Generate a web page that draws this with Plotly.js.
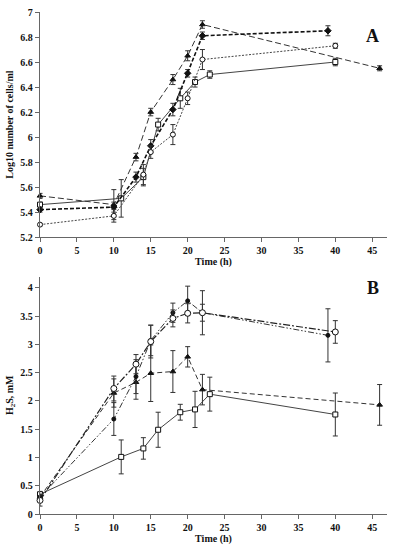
<!DOCTYPE html>
<html>
<head>
<meta charset="utf-8">
<script src="https://cdn.plot.ly/plotly-3.0.1.min.js"></script>
<style>html,body{margin:0;padding:0;background:#fff;}#chart{width:397px;height:550px;}</style>
</head>
<body>
<div id="chart"></div>
<script>
// Panel A: Log10 number of cells/ml
const timeA_sq = [0, 11, 14, 16, 19, 21, 23, 40];
const cellsA_sq = [5.46, 5.51, 5.68, 6.10, 6.31, 6.44, 6.50, 6.60];
const errA_sq = [0.02, 0.15, 0.07, 0.05, 0.08, 0.04, 0.03, 0.03];

const timeA_tri = [0, 10, 13, 15, 18, 20, 22, 46];
const cellsA_tri = [5.53, 5.46, 5.84, 6.20, 6.46, 6.65, 6.90, 6.55];
const errA_tri = [0.02, 0.12, 0.03, 0.03, 0.04, 0.04, 0.03, 0.02];

const timeA_dia = [0, 10, 13, 15, 18, 20, 22, 39];
const cellsA_dia = [5.42, 5.44, 5.68, 5.93, 6.22, 6.51, 6.81, 6.85];
const errA_dia = [0.02, 0.04, 0.04, 0.05, 0.05, 0.03, 0.03, 0.04];

const timeA_cir = [0, 10, 14, 15, 18, 20, 22, 40];
const cellsA_cir = [5.30, 5.37, 5.70, 5.88, 6.02, 6.31, 6.62, 6.73];
const errA_cir = [0.01, 0.05, 0.08, 0.05, 0.08, 0.05, 0.08, 0.02];

// Panel B: H2S, mM
const timeB_sq = [0, 11, 14, 16, 19, 21, 23, 40];
const h2sB_sq = [0.35, 1.01, 1.16, 1.49, 1.80, 1.85, 2.12, 1.76];
const errB_sq = [0.05, 0.30, 0.19, 0.31, 0.14, 0.32, 0.30, 0.38];

const timeB_tri = [0, 10, 13, 15, 18, 20, 22, 46];
const h2sB_tri = [0.30, 2.14, 2.33, 2.49, 2.52, 2.78, 2.20, 1.93];
const errB_tri = [0.05, 0.25, 0.30, 0.50, 0.37, 0.18, 0.27, 0.36];

const timeB_fc = [0, 10, 13, 15, 18, 20, 22, 39];
const h2sB_fc = [0.30, 1.68, 2.43, 3.07, 3.56, 3.77, 3.56, 3.16];
const errB_fc = [0.05, 0.29, 0.30, 0.27, 0.17, 0.26, 0.39, 0.47];

const timeB_oc = [0, 10, 13, 15, 18, 20, 22, 40];
const h2sB_oc = [0.24, 2.22, 2.65, 3.05, 3.46, 3.55, 3.56, 3.22];
const errB_oc = [0.10, 0.22, 0.17, 0.29, 0.15, 0.17, 0.15, 0.20];

function tr(x, y, e, ax, sym, fill, dash, lw, lc, ms) {
  return {
    x: x, y: y, xaxis: ax[0], yaxis: ax[1], type: 'scatter', mode: 'lines+markers',
    line: {color: lc || '#222', width: lw || 1, dash: dash},
    marker: {symbol: sym, size: ms || 5, color: fill, line: {color: '#111', width: 1}},
    error_y: {type: 'data', array: e, visible: true, color: '#333', thickness: 1, width: 2.5},
    showlegend: false, cliponaxis: false
  };
}

const data = [
  tr(timeA_sq, cellsA_sq, errA_sq, ['x', 'y'], 'square', '#fff', 'solid', 1, '#444', 5),
  tr(timeA_tri, cellsA_tri, errA_tri, ['x', 'y'], 'triangle-up', '#111', '6px,3px', 1, '#333', 5),
  tr(timeA_dia, cellsA_dia, errA_dia, ['x', 'y'], 'diamond', '#111', '4px,2px', 1.6, '#111', 5),
  tr(timeA_cir, cellsA_cir, errA_cir, ['x', 'y'], 'circle', '#fff', '2px,1.5px', 1, '#444', 5),
  tr(timeB_sq, h2sB_sq, errB_sq, ['x2', 'y2'], 'square', '#fff', 'solid', 1, '#444', 5),
  tr(timeB_tri, h2sB_tri, errB_tri, ['x2', 'y2'], 'triangle-up', '#111', '5px,3px', 1, '#333', 5),
  tr(timeB_fc, h2sB_fc, errB_fc, ['x2', 'y2'], 'circle', '#111', '6px,2px,1.5px,2px,1.5px,2px', 1, '#333', 4),
  tr(timeB_oc, h2sB_oc, errB_oc, ['x2', 'y2'], 'circle', '#fff', '7px,2px,2px,2px', 1.2, '#222', 6)
];

const fontSerif = 'Liberation Serif, Times New Roman, serif';
const tickF = {family: fontSerif, size: 10, color: '#111', weight: 'bold'};
const titleF = {family: fontSerif, size: 10, color: '#111', weight: 'bold'};

function xax(anchor) {
  return {
    anchor: anchor, range: [0, 47], dtick: 5, tick0: 0, showgrid: false, zeroline: false,
    showline: true, linecolor: '#666', linewidth: 1.2, ticks: 'outside', ticklen: 4,
    tickcolor: '#666', tickfont: tickF,
    title: {text: 'Time (h)', font: titleF, standoff: 2}
  };
}

const layout = {
  width: 397, height: 550,
  margin: {l: 40, r: 10, t: 12, b: 36},
  paper_bgcolor: '#fff', plot_bgcolor: '#fff',
  xaxis: Object.assign(xax('y'), {domain: [0, 1]}),
  yaxis: {
    domain: [0.5515, 1], anchor: 'x', range: [5.2, 7], dtick: 0.2, tick0: 5.2,
    showgrid: false, zeroline: false, showline: true, linecolor: '#666', linewidth: 1.2,
    ticks: 'outside', ticklen: 4, tickcolor: '#666', tickfont: tickF,
    title: {text: 'Log10 number of cells/ml', font: titleF, standoff: 4}
  },
  xaxis2: Object.assign(xax('y2'), {domain: [0, 1]}),
  yaxis2: {
    domain: [0, 0.473], anchor: 'x2', range: [0, 4.2], dtick: 0.5, tick0: 0,
    showgrid: false, zeroline: false, showline: true, linecolor: '#666', linewidth: 1.2,
    ticks: 'outside', ticklen: 4, tickcolor: '#666', tickfont: tickF,
    title: {text: 'H<sub>2</sub>S, mM', font: titleF, standoff: 4}
  },
  annotations: [
    {text: 'A', xref: 'paper', yref: 'paper', x: 0.982, y: 0.977, showarrow: false,
     font: {family: fontSerif, size: 18, color: '#111', weight: 'bold'}},
    {text: 'B', xref: 'paper', yref: 'paper', x: 0.982, y: 0.45, showarrow: false,
     font: {family: fontSerif, size: 18, color: '#111', weight: 'bold'}}
  ]
};

Plotly.newPlot('chart', data, layout, {displayModeBar: false, staticPlot: true});
</script>
</body>
</html>
